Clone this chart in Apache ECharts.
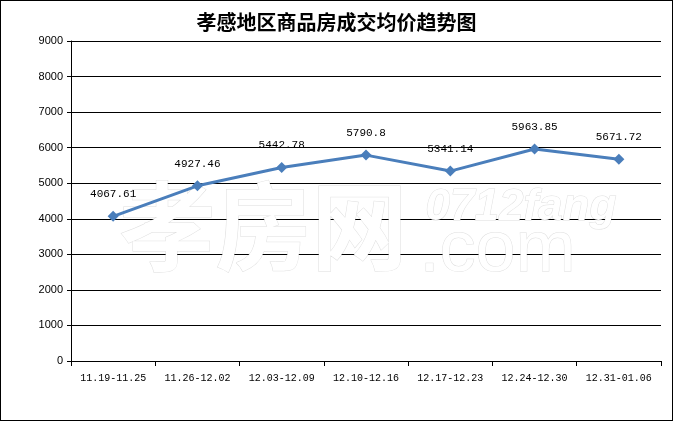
<!DOCTYPE html>
<html><head><meta charset="utf-8">
<script src="https://cdn.jsdelivr.net/npm/echarts@6/dist/echarts.min.js"></script>
<style>html,body{margin:0;padding:0;background:#fff}#c{width:673px;height:421px;box-sizing:border-box;border:1px solid #000}</style>
</head><body><div id="c"></div>
<script>
var title = '孝感地区商品房成交均价趋势图';
var categories = ['11.19-11.25','11.26-12.02','12.03-12.09','12.10-12.16','12.17-12.23','12.24-12.30','12.31-01.06'];
var prices = [4067.61, 4927.46, 5442.78, 5790.8, 5341.14, 5963.85, 5671.72];
var priceLabels = ['4067.61','4927.46','5442.78','5790.8','5341.14','5963.85','5671.72'];
var yMin = 0, yMax = 9000, yStep = 1000;

var chart = echarts.init(document.getElementById('c'), null, {renderer:'canvas'});
function wm(text, left, top, font){
  return {type:'text', z:1, left:left, top:top,
    style:{text:text, font:font, fill:'#fff', stroke:'rgba(120,120,120,0.25)', lineWidth:1,
      shadowColor:'rgba(0,0,0,0.3)', shadowBlur:4, shadowOffsetX:3, shadowOffsetY:3}};
}
chart.setOption({
  animation:false,
  title:{text:title, left:'center', top:6, textStyle:{fontFamily:'Noto Sans CJK SC', fontWeight:'bold', fontSize:20, color:'#000'}},
  grid:{left:70, right:11, top:40, bottom:59, containLabel:false},
  graphic:[
    wm('孝房网', 118, 176, 'bold 96px "Noto Sans CJK SC"'),
    wm('0712fang', 424, 184, 'italic bold 44px "Liberation Sans"'),
    wm('.com', 418, 214, '72px "Liberation Sans"')
  ],
  xAxis:{type:'category', data:categories, boundaryGap:true,
    axisLine:{lineStyle:{color:'#000', width:1}},
    axisTick:{show:true, length:5, alignWithLabel:false, lineStyle:{color:'#000'}},
    axisLabel:{color:'#000', fontFamily:'Liberation Mono', fontSize:10, margin:12, interval:0}},
  yAxis:{type:'value', min:yMin, max:yMax, interval:yStep,
    axisLine:{show:true, lineStyle:{color:'#000'}},
    axisTick:{show:true, length:4, lineStyle:{color:'#000'}},
    axisLabel:{color:'#000', fontFamily:'Liberation Sans', fontSize:11, margin:8, formatter:function(v){return String(v);}},
    splitLine:{lineStyle:{color:'#000', width:1}}},
  series:[{type:'line', data:prices, z:3,
    lineStyle:{color:'#4a7ebb', width:3},
    itemStyle:{color:'#4a7ebb'},
    symbol:'diamond', symbolSize:11, showAllSymbol:true,
    label:{show:true, position:'top', distance:11, color:'#000', fontFamily:'Liberation Mono', fontSize:11,
      formatter:function(p){return priceLabels[p.dataIndex];}}}]
});
</script></body></html>
